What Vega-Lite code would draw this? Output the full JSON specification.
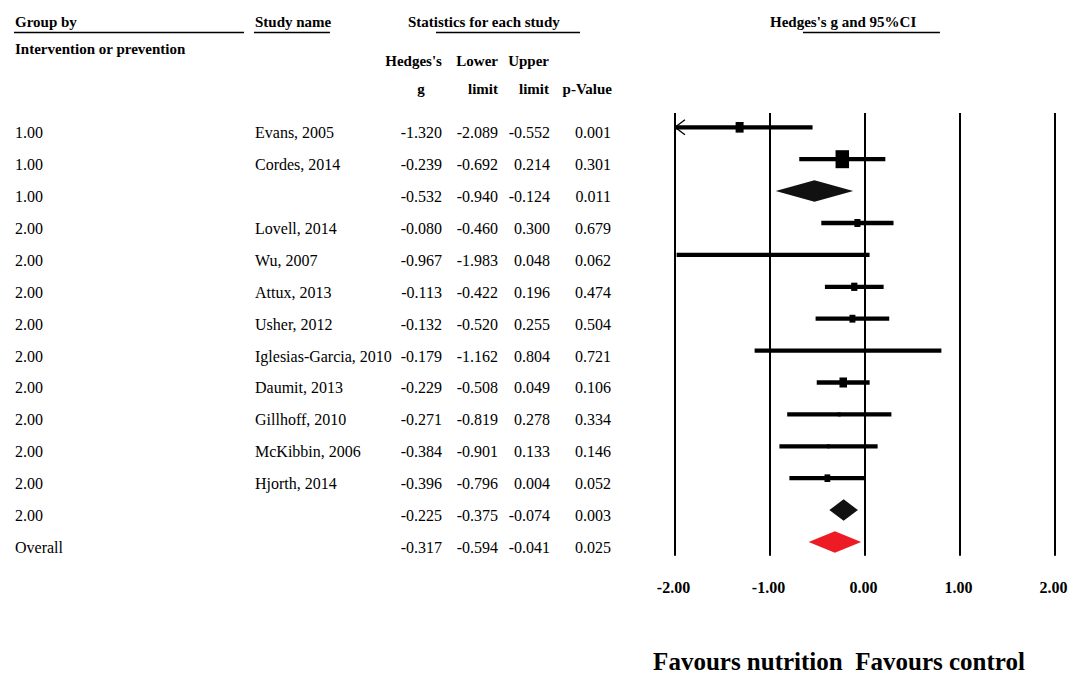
{
"$schema": "https://vega.github.io/schema/vega-lite/v6.json",
"width": 1072,
"height": 675,
"padding": 0,
"background": "white",
"config": {
  "view": {"stroke": null},
  "font": "Liberation Serif",
  "locale": {"number": {"decimal": ".", "thousands": ",", "grouping": [3], "currency": ["$", ""], "minus": "-"}}
},
"datasets": {
  "rows": [
    {"row": 1, "group": "1.00", "study": "Evans, 2005", "g": -1.320, "lower": -2.089, "upper": -0.552, "p": 0.001, "kind": "study", "weight": 3.5},
    {"row": 2, "group": "1.00", "study": "Cordes, 2014", "g": -0.239, "lower": -0.692, "upper": 0.214, "p": 0.301, "kind": "study", "weight": 10},
    {"row": 3, "group": "1.00", "study": "", "g": -0.532, "lower": -0.940, "upper": -0.124, "p": 0.011, "kind": "summary"},
    {"row": 4, "group": "2.00", "study": "Lovell, 2014", "g": -0.080, "lower": -0.460, "upper": 0.300, "p": 0.679, "kind": "study", "weight": 2.0},
    {"row": 5, "group": "2.00", "study": "Wu, 2007", "g": -0.967, "lower": -1.983, "upper": 0.048, "p": 0.062, "kind": "study", "weight": 0.3},
    {"row": 6, "group": "2.00", "study": "Attux, 2013", "g": -0.113, "lower": -0.422, "upper": 0.196, "p": 0.474, "kind": "study", "weight": 2.1},
    {"row": 7, "group": "2.00", "study": "Usher, 2012", "g": -0.132, "lower": -0.520, "upper": 0.255, "p": 0.504, "kind": "study", "weight": 1.9},
    {"row": 8, "group": "2.00", "study": "Iglesias-Garcia, 2010", "g": -0.179, "lower": -1.162, "upper": 0.804, "p": 0.721, "kind": "study", "weight": 0.3},
    {"row": 9, "group": "2.00", "study": "Daumit, 2013", "g": -0.229, "lower": -0.508, "upper": 0.049, "p": 0.106, "kind": "study", "weight": 3.1},
    {"row": 10, "group": "2.00", "study": "Gillhoff, 2010", "g": -0.271, "lower": -0.819, "upper": 0.278, "p": 0.334, "kind": "study", "weight": 0.5},
    {"row": 11, "group": "2.00", "study": "McKibbin, 2006", "g": -0.384, "lower": -0.901, "upper": 0.133, "p": 0.146, "kind": "study", "weight": 0.5},
    {"row": 12, "group": "2.00", "study": "Hjorth, 2014", "g": -0.396, "lower": -0.796, "upper": 0.004, "p": 0.052, "kind": "study", "weight": 1.8},
    {"row": 13, "group": "2.00", "study": "", "g": -0.225, "lower": -0.375, "upper": -0.074, "p": 0.003, "kind": "summary"},
    {"row": 14, "group": "Overall", "study": "", "g": -0.317, "lower": -0.594, "upper": -0.041, "p": 0.025, "kind": "summary"}
  ],
  "ticks": [{"tick": -2}, {"tick": -1}, {"tick": 0}, {"tick": 1}, {"tick": 2}]
},
"layer": [
  {"data": {"name": "ticks"},
   "mark": {"type": "rule", "strokeWidth": 2, "color": "black"},
   "encoding": {
     "x": {"field": "tick", "type": "quantitative", "scale": {"domain": [-9.105263, 2.178947], "nice": false, "zero": false}, "axis": null},
     "y": {"datum": 0.552, "type": "quantitative", "scale": {"domain": [-2.9906, 18.1693], "reverse": true, "nice": false, "zero": false}, "axis": null},
     "y2": {"datum": 14.43}}},
  {"data": {"name": "ticks"},
   "mark": {"type": "text", "align": "center", "baseline": "alphabetic", "fontSize": 16, "fontWeight": "bold", "color": "black", "dx": -1.5},
   "encoding": {
     "x": {"field": "tick", "type": "quantitative"},
     "y": {"datum": 15.599, "type": "quantitative"},
     "text": {"field": "tick", "type": "quantitative", "format": ".2f"}}},
  {"data": {"values": [{}]},
   "mark": {"type": "text", "text": "Favours nutrition\u00a0\u00a0Favours control", "align": "center", "baseline": "alphabetic", "fontSize": 25, "fontWeight": "bold", "color": "black"},
   "encoding": {
     "x": {"datum": -0.2737, "type": "quantitative"},
     "y": {"datum": 18.0125, "type": "quantitative"}}},

  {"data": {"name": "rows"},
   "transform": [{"filter": "datum.kind === 'study' && datum.lower >= -2"}],
   "mark": {"type": "rule", "strokeWidth": 4.3, "color": "black"},
   "encoding": {
     "x": {"field": "lower", "type": "quantitative"},
     "x2": {"field": "upper"},
     "y": {"field": "row", "type": "quantitative"}}},
  {"data": {"name": "rows"},
   "transform": [{"filter": "datum.kind === 'study' && datum.lower < -2"}],
   "mark": {"type": "rule", "strokeWidth": 4.3, "color": "black"},
   "encoding": {
     "x": {"field": "upper", "type": "quantitative"},
     "x2": {"datum": -2},
     "y": {"field": "row", "type": "quantitative"}}},
  {"data": {"name": "rows"},
   "transform": [{"filter": "datum.kind === 'study' && datum.lower < -2"}],
   "mark": {"type": "point", "shape": "M 1.33 -1 L 0 0 L 1.33 1", "filled": false, "stroke": "black", "strokeWidth": 1.3, "opacity": 1, "size": 225},
   "encoding": {
     "x": {"datum": -2, "type": "quantitative"},
     "y": {"field": "row", "type": "quantitative"}}},
  {"data": {"name": "rows"},
   "transform": [{"filter": "datum.kind === 'study'"}],
   "mark": {"type": "point", "shape": "M -0.75 -1 H 0.75 V 1 H -0.75 Z", "filled": true, "color": "black", "opacity": 1, "strokeWidth": 0},
   "encoding": {
     "x": {"field": "g", "type": "quantitative"},
     "y": {"field": "row", "type": "quantitative"},
     "size": {"field": "weight", "type": "quantitative", "scale": {"domain": [0, 10], "range": [0, 324]}, "legend": null}}},
  {"data": {"name": "rows"},
   "transform": [{"filter": "datum.kind === 'summary'"}],
   "mark": {"type": "point", "filled": true, "opacity": 1, "strokeWidth": 0, "size": 462.25},
   "encoding": {
     "x": {"field": "g", "type": "quantitative"},
     "y": {"field": "row", "type": "quantitative"},
     "shape": {"field": "group", "type": "nominal", "scale": {"domain": ["1.00", "2.00", "Overall"], "range": ["M -3.606 0 L 0 -1 L 3.606 0 L 0 1 Z", "M -1.330 0 L 0 -1 L 1.330 0 L 0 1 Z", "M -2.444 0 L 0 -1 L 2.444 0 L 0 1 Z"]}, "legend": null},
     "color": {"field": "group", "type": "nominal", "scale": {"domain": ["1.00", "2.00", "Overall"], "range": ["#111111", "#111111", "#ed1c24"]}, "legend": null}}},

  {"data": {"name": "rows"},
   "mark": {"type": "text", "align": "left", "baseline": "alphabetic", "dy": 11, "fontSize": 16, "color": "black"},
   "encoding": {"x": {"datum": -8.947, "type": "quantitative"}, "y": {"field": "row", "type": "quantitative"}, "text": {"field": "group"}}},
  {"data": {"name": "rows"},
   "mark": {"type": "text", "align": "left", "baseline": "alphabetic", "dy": 11, "fontSize": 16, "color": "black"},
   "encoding": {"x": {"datum": -6.421, "type": "quantitative"}, "y": {"field": "row", "type": "quantitative"}, "text": {"field": "study"}}},
  {"data": {"name": "rows"},
   "mark": {"type": "text", "align": "right", "baseline": "alphabetic", "dy": 11, "fontSize": 16, "color": "black"},
   "encoding": {"x": {"datum": -4.453, "type": "quantitative"}, "y": {"field": "row", "type": "quantitative"}, "text": {"field": "g", "type": "quantitative", "format": ".3f"}}},
  {"data": {"name": "rows"},
   "mark": {"type": "text", "align": "right", "baseline": "alphabetic", "dy": 11, "fontSize": 16, "color": "black"},
   "encoding": {"x": {"datum": -3.863, "type": "quantitative"}, "y": {"field": "row", "type": "quantitative"}, "text": {"field": "lower", "type": "quantitative", "format": ".3f"}}},
  {"data": {"name": "rows"},
   "mark": {"type": "text", "align": "right", "baseline": "alphabetic", "dy": 11, "fontSize": 16, "color": "black"},
   "encoding": {"x": {"datum": -3.316, "type": "quantitative"}, "y": {"field": "row", "type": "quantitative"}, "text": {"field": "upper", "type": "quantitative", "format": ".3f"}}},
  {"data": {"name": "rows"},
   "mark": {"type": "text", "align": "right", "baseline": "alphabetic", "dy": 11, "fontSize": 16, "color": "black"},
   "encoding": {"x": {"datum": -2.674, "type": "quantitative"}, "y": {"field": "row", "type": "quantitative"}, "text": {"field": "p", "type": "quantitative", "format": ".3f"}}},

  {"data": {"values": [{}]},
   "mark": {"type": "text", "text": "Group by", "align": "left", "baseline": "alphabetic", "fontSize": 15, "fontWeight": "bold", "color": "black"},
   "encoding": {"x": {"datum": -8.947, "type": "quantitative"}, "y": {"datum": -2.144, "type": "quantitative"}}},
  {"data": {"values": [{}]},
   "mark": {"type": "text", "text": "Intervention or prevention", "align": "left", "baseline": "alphabetic", "fontSize": 15, "fontWeight": "bold", "color": "black"},
   "encoding": {"x": {"datum": -8.947, "type": "quantitative"}, "y": {"datum": -1.298, "type": "quantitative"}}},
  {"data": {"values": [{}]},
   "mark": {"type": "text", "text": "Study name", "align": "left", "baseline": "alphabetic", "fontSize": 15, "fontWeight": "bold", "color": "black"},
   "encoding": {"x": {"datum": -6.421, "type": "quantitative"}, "y": {"datum": -2.144, "type": "quantitative"}}},
  {"data": {"values": [{}]},
   "mark": {"type": "text", "text": "Statistics for each study", "align": "left", "baseline": "alphabetic", "fontSize": 15, "fontWeight": "bold", "color": "black"},
   "encoding": {"x": {"datum": -4.811, "type": "quantitative"}, "y": {"datum": -2.144, "type": "quantitative"}}},
  {"data": {"values": [{}]},
   "mark": {"type": "text", "text": "Hedges's g and 95%CI", "align": "left", "baseline": "alphabetic", "fontSize": 15, "fontWeight": "bold", "color": "black"},
   "encoding": {"x": {"datum": -1.0, "type": "quantitative"}, "y": {"datum": -2.144, "type": "quantitative"}}},
  {"data": {"values": [{}]},
   "mark": {"type": "text", "text": "Hedges's", "align": "right", "baseline": "alphabetic", "fontSize": 15, "fontWeight": "bold", "color": "black"},
   "encoding": {"x": {"datum": -4.453, "type": "quantitative"}, "y": {"datum": -0.922, "type": "quantitative"}}},
  {"data": {"values": [{}]},
   "mark": {"type": "text", "text": "g", "align": "center", "baseline": "alphabetic", "fontSize": 15, "fontWeight": "bold", "color": "black"},
   "encoding": {"x": {"datum": -4.674, "type": "quantitative"}, "y": {"datum": -0.044, "type": "quantitative"}}},
  {"data": {"values": [{}]},
   "mark": {"type": "text", "text": ["Lower", "limit"], "lineHeight": 28, "align": "right", "baseline": "alphabetic", "fontSize": 15, "fontWeight": "bold", "color": "black"},
   "encoding": {"x": {"datum": -3.863, "type": "quantitative"}, "y": {"datum": -0.922, "type": "quantitative"}}},
  {"data": {"values": [{}]},
   "mark": {"type": "text", "text": ["Upper", "limit"], "lineHeight": 28, "align": "right", "baseline": "alphabetic", "fontSize": 15, "fontWeight": "bold", "color": "black"},
   "encoding": {"x": {"datum": -3.326, "type": "quantitative"}, "y": {"datum": -0.922, "type": "quantitative"}}},
  {"data": {"values": [{}]},
   "mark": {"type": "text", "text": "p-Value", "align": "right", "baseline": "alphabetic", "fontSize": 15, "fontWeight": "bold", "color": "black"},
   "encoding": {"x": {"datum": -2.663, "type": "quantitative"}, "y": {"datum": -0.044, "type": "quantitative"}}},
  {"data": {"values": [{}]},
   "mark": {"type": "rule", "strokeWidth": 1.5, "color": "black"},
   "encoding": {"x": {"datum": -8.958, "type": "quantitative"}, "x2": {"datum": -6.537}, "y": {"datum": -1.972, "type": "quantitative"}}},
  {"data": {"values": [{}]},
   "mark": {"type": "rule", "strokeWidth": 1.5, "color": "black"},
   "encoding": {"x": {"datum": -6.432, "type": "quantitative"}, "x2": {"datum": -5.632}, "y": {"datum": -1.972, "type": "quantitative"}}},
  {"data": {"values": [{}]},
   "mark": {"type": "rule", "strokeWidth": 1.5, "color": "black"},
   "encoding": {"x": {"datum": -4.516, "type": "quantitative"}, "x2": {"datum": -3.0}, "y": {"datum": -1.972, "type": "quantitative"}}},
  {"data": {"values": [{}]},
   "mark": {"type": "rule", "strokeWidth": 1.5, "color": "black"},
   "encoding": {"x": {"datum": -0.653, "type": "quantitative"}, "x2": {"datum": 0.789}, "y": {"datum": -1.972, "type": "quantitative"}}}
],
"encoding": {
  "x": {"axis": null},
  "y": {"axis": null}
}
}
